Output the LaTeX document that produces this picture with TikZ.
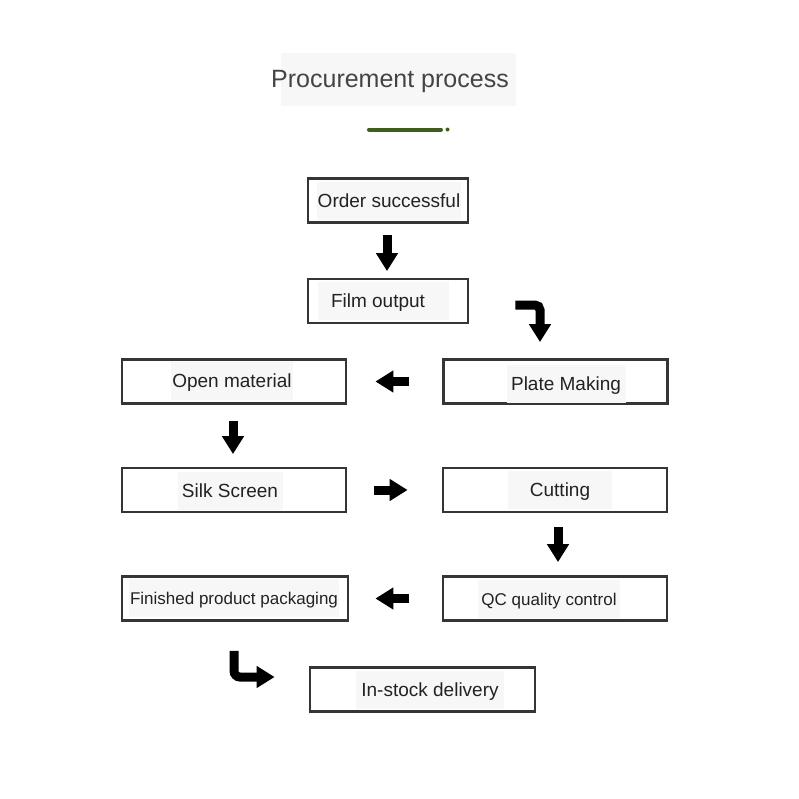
\documentclass[tikz,border=0pt]{standalone}
\usepackage{fontspec}
\setmainfont{Liberation Sans}
\usetikzlibrary{arrows.meta,positioning,calc}

\definecolor{framegray}{HTML}{353535}
\definecolor{paper}{HTML}{F7F7F7}
\definecolor{leaf}{HTML}{3F5E1E}
\definecolor{ink}{HTML}{222222}
\definecolor{headink}{HTML}{444444}

\tikzset{
  stepbox/.style={draw=framegray, line width=2.8pt, minimum width=#1, minimum height=44pt, inner sep=0pt},
  stepbox/.default=224pt,
  steptext/.style={fill=paper, text=ink, font=\fontsize{19}{19}\selectfont, text height=13.6pt, text depth=0pt, inner xsep=1pt, minimum height=38pt},
  smalltext/.style={steptext, font=\fontsize{17}{17}\selectfont, text height=12.2pt},
  flow/.style={draw=black, line width=9pt, -{Triangle[length=18pt,width=21pt]}},
}

\begin{document}
\begin{tikzpicture}[x=1pt,y=-1pt]
	\useasboundingbox (0,0) rectangle (799,798);
	
	% heading
	\fill[paper] (281,53) rectangle (516,106);
	\node[text=headink, font=\fontsize{25}{25}\selectfont, text height=17.9pt, text depth=0pt, inner sep=0pt] (head) at (390,78.5) {Procurement process};
	\draw[leaf, line width=4pt, line cap=round] (369,129.5) -- (441,129.5);
	\fill[leaf] (447.5,129.5) circle (2pt);
	
	% boxes
	\node[stepbox=160pt] (order) at (388,200.5) {};
	\node[stepbox=160pt] (film) at (388,301) {};
	\node[stepbox] (plate) at (555.5,381.5) {};
	\node[stepbox] (open) at (234,381.5) {};
	\node[stepbox] (silk) at (234,490) {};
	\node[stepbox] (cutting) at (555,490) {};
	\node[stepbox] (qc) at (555,598.5) {};
	\node[stepbox=226pt] (fin) at (235,598.5) {};
	\node[stepbox=225pt] (deliv) at (422.5,689.5) {};
	
	% texts
	\node[steptext] (order-t) at (389,200.5) {Order successful};
	\node[steptext, minimum width=131pt] (film-t) at (383.5,301) {Film output\rule{11pt}{0pt}};
	\node[steptext, minimum width=119pt] (plate-t) at (566,384) {Plate Making};
	\node[steptext] (open-t) at (232,381) {Open material};
	\node[steptext, minimum width=105pt] (silk-t) at (230,491) {Silk Screen};
	\node[steptext, minimum width=104pt] (cutting-t) at (560,490) {Cutting};
	\node[smalltext, minimum width=142pt] (qc-t) at (549,599) {QC quality control};
	\node[smalltext] (fin-t) at (234,598) {Finished product packaging};
	\node[steptext, minimum width=148pt] (deliv-t) at (430,690) {In-stock delivery};
	
	% arrows
	\draw[flow, shorten <=11pt, shorten >=6.5pt] ([xshift=-1pt]order.south) -- ([xshift=-1pt]film.north);
	\draw[flow, rounded corners=5pt, shorten >=16pt] ([xshift=46pt,yshift=-4pt]film.east) -| ([xshift=-15.5pt]plate.north);
	\draw[flow, shorten <=33.5pt, shorten >=28pt] (plate.west) -- (open.east);
	\draw[flow, shorten <=16.5pt, shorten >=12.5pt] ([xshift=-1pt]open.south) -- ([xshift=-1pt]silk.north);
	\draw[flow, shorten <=27pt, shorten >=34pt] (silk.east) -- (cutting.west);
	\draw[flow, shorten <=14pt, shorten >=13pt] ([xshift=3pt]cutting.south) -- ([xshift=3pt]qc.north);
	\draw[flow, shorten <=33pt, shorten >=26pt] (qc.west) -- (fin.east);
	\draw[flow, rounded corners=6pt, shorten >=34pt] ([xshift=-1pt,yshift=-29pt]fin.south) |- ([yshift=12.5pt]deliv.west);
\end{tikzpicture}
\end{document}
